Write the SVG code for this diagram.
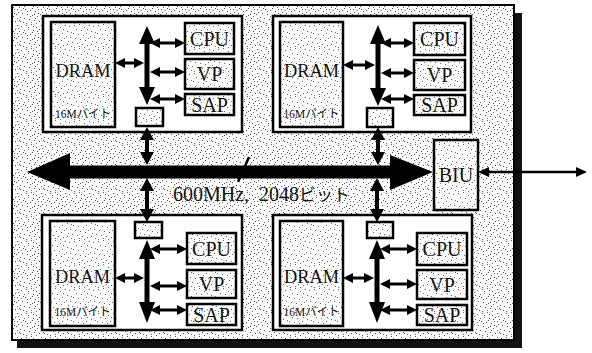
<svg xmlns="http://www.w3.org/2000/svg" width="592" height="353" viewBox="0 0 592 353">
<defs>
<pattern id="st" width="24" height="24" patternUnits="userSpaceOnUse">
<rect width="24" height="24" fill="#fff"/>
<path fill="#666" d="M2 1h1v1h-1zM7 0h1v1h-1zM12 3h1v1h-1zM17 1h1v1h-1zM21 2h1v1h-1zM4 5h1v1h-1zM9 6h1v1h-1zM15 5h1v1h-1zM19 7h1v1h-1zM23 8h1v1h-1zM1 9h1v1h-1zM6 10h1v1h-1zM11 11h1v1h-1zM14 9h1v1h-1zM18 12h1v1h-1zM22 13h1v1h-1zM3 14h1v1h-1zM8 15h1v1h-1zM13 16h1v1h-1zM16 14h1v1h-1zM20 17h1v1h-1zM0 18h1v1h-1zM5 19h1v1h-1zM10 20h1v1h-1zM15 21h1v1h-1zM19 20h1v1h-1zM23 22h1v1h-1zM2 23h1v1h-1zM7 22h1v1h-1zM12 23h1v1h-1z"/>
</pattern>
<pattern id="st2" width="24" height="24" patternUnits="userSpaceOnUse">
<rect width="24" height="24" fill="#fff"/>
<path fill="#555" d="M2 1h1v1h-1zM7 0h1v1h-1zM12 3h1v1h-1zM17 1h1v1h-1zM21 2h1v1h-1zM4 5h1v1h-1zM9 6h1v1h-1zM15 5h1v1h-1zM19 7h1v1h-1zM23 8h1v1h-1zM1 9h1v1h-1zM6 10h1v1h-1zM11 11h1v1h-1zM14 9h1v1h-1zM18 12h1v1h-1zM22 13h1v1h-1zM3 14h1v1h-1zM8 15h1v1h-1zM13 16h1v1h-1zM16 14h1v1h-1zM20 17h1v1h-1zM0 18h1v1h-1zM5 19h1v1h-1zM10 20h1v1h-1zM15 21h1v1h-1zM19 20h1v1h-1zM23 22h1v1h-1zM2 23h1v1h-1zM7 22h1v1h-1zM12 23h1v1h-1zM17 18h1v1h-1zM9 2h1v1h-1zM13 7h1v1h-1zM3 11h1v1h-1zM21 10h1v1h-1zM6 16h1v1h-1zM11 18h1v1h-1zM18 4h1v1h-1zM0 6h1v1h-1zM14 13h1v1h-1zM4 3h1v1h-1zM17 9h1v1h-1zM10 14h1v1h-1zM20 21h1v1h-1zM8 8h1v1h-1z"/>
</pattern>
<marker id="ah" viewBox="0 0 10 10" refX="6" refY="5" markerWidth="10" markerHeight="10" markerUnits="userSpaceOnUse" orient="auto-start-reverse">
<path d="M0,0 L10,5 L0,10 z" fill="#000"/>
</marker>
<style>
.frame{fill:url(#st2);stroke:#000;stroke-width:2}
.mod{fill:#fff;stroke:#000;stroke-width:2.5}
.box{fill:url(#st);stroke:#000;stroke-width:2.5}
.t{font-family:"Liberation Serif","Noto Sans CJK JP",serif;fill:#111;text-anchor:middle}
.lbl{font-size:20px}
.dram{font-size:19px}
.cap{font-size:12px}
.bus{font-family:"Liberation Serif","Noto Sans CJK JP",serif;fill:#111;font-size:20px}
.arr{stroke:#000;stroke-width:3;fill:none;marker-start:url(#ah);marker-end:url(#ah)}
.solid{fill:#000}
</style>
</defs>

<g id="frame">
<path d="M514 13H522V348H17V340H514Z" fill="#111"/>
<rect class="frame" x="12" y="5" width="502" height="335"/>
</g>

<g id="module-tl">
<rect class="mod" x="43" y="16" width="199" height="116"/>
<g id="dram-tl"><rect class="box" x="51" y="22" width="64" height="105"/><text class="t dram" x="83" y="77" textLength="55" lengthAdjust="spacingAndGlyphs">DRAM</text><text class="t cap" x="83" y="118" textLength="56" lengthAdjust="spacingAndGlyphs">16Mバイト</text></g>
<g id="cpu-tl"><rect class="box" x="185" y="23" width="49" height="31"/><text class="t lbl" x="209.5" y="45.5">CPU</text></g>
<g id="vp-tl"><rect class="box" x="185" y="59" width="49" height="30"/><text class="t lbl" x="209.5" y="81">VP</text></g>
<g id="sap-tl"><rect class="box" x="185" y="94" width="49" height="21"/><text class="t lbl" x="209.5" y="111.5">SAP</text></g>
<g id="if-tl"><rect class="box" x="136" y="108" width="27" height="18"/></g>
</g>

<g id="module-tr">
<rect class="mod" x="273" y="16" width="198" height="116"/>
<g id="dram-tr"><rect class="box" x="280" y="22" width="63" height="105"/><text class="t dram" x="311.5" y="77" textLength="55" lengthAdjust="spacingAndGlyphs">DRAM</text><text class="t cap" x="311.5" y="118" textLength="56" lengthAdjust="spacingAndGlyphs">16Mバイト</text></g>
<g id="cpu-tr"><rect class="box" x="414" y="23" width="51" height="32"/><text class="t lbl" x="439.5" y="46">CPU</text></g>
<g id="vp-tr"><rect class="box" x="414" y="60" width="51" height="30"/><text class="t lbl" x="439.5" y="82">VP</text></g>
<g id="sap-tr"><rect class="box" x="414" y="95" width="51" height="20"/><text class="t lbl" x="439.5" y="112">SAP</text></g>
<g id="if-tr"><rect class="box" x="367" y="108" width="26" height="19"/></g>
</g>

<g id="module-bl">
<rect class="mod" x="42" y="215" width="200" height="115"/>
<g id="dram-bl"><rect class="box" x="50" y="221" width="65" height="105"/><text class="t dram" x="82.5" y="283" textLength="55" lengthAdjust="spacingAndGlyphs">DRAM</text><text class="t cap" x="82.5" y="316" textLength="56" lengthAdjust="spacingAndGlyphs">16Mバイト</text></g>
<g id="cpu-bl"><rect class="box" x="187" y="233" width="49" height="31"/><text class="t lbl" x="211.5" y="255.5">CPU</text></g>
<g id="vp-bl"><rect class="box" x="187" y="270" width="49" height="28"/><text class="t lbl" x="211.5" y="291">VP</text></g>
<g id="sap-bl"><rect class="box" x="187" y="304" width="49" height="21"/><text class="t lbl" x="211.5" y="321.5">SAP</text></g>
<g id="if-bl"><rect class="box" x="135" y="222" width="27" height="16"/></g>
</g>

<g id="module-br">
<rect class="mod" x="273" y="215" width="199" height="115"/>
<g id="dram-br"><rect class="box" x="280" y="221" width="63" height="105"/><text class="t dram" x="311.5" y="283" textLength="55" lengthAdjust="spacingAndGlyphs">DRAM</text><text class="t cap" x="311.5" y="316" textLength="56" lengthAdjust="spacingAndGlyphs">16Mバイト</text></g>
<g id="cpu-br"><rect class="box" x="417" y="233" width="50" height="32"/><text class="t lbl" x="442" y="256">CPU</text></g>
<g id="vp-br"><rect class="box" x="417" y="270" width="50" height="29"/><text class="t lbl" x="442" y="291.5">VP</text></g>
<g id="sap-br"><rect class="box" x="417" y="305" width="50" height="20"/><text class="t lbl" x="442" y="322">SAP</text></g>
<g id="if-br"><rect class="box" x="367" y="222" width="26" height="16"/></g>
</g>

<g id="biu">
<rect class="box" x="434" y="140" width="44" height="70"/>
<text class="t lbl" x="456" y="182">BIU</text>
</g>

<g id="connectors">
<polygon class="solid" points="27,172 70,153 70,165.5 390,165.5 390,155 433,172 390,190 390,178.5 70,178.5 70,190"/>
<line x1="238" y1="182" x2="249" y2="157" stroke="#000" stroke-width="2.5"/>
<polygon class="solid" points="478,172 489,167 489,170.8 576,170.8 576,167 587,172 576,177 576,173.2 489,173.2 489,177"/>

<polygon class="solid" points="147,26 155,44 149.5,44 149.5,87 155,87 147,105 139,87 144.5,87 144.5,44 139,44"/>
<polygon class="solid" points="378,25 386,44 380.5,44 380.5,88 386,88 378,106 370,88 375.5,88 375.5,44 370,44"/>
<polygon class="solid" points="147,240 155,259 149.5,259 149.5,302 155,302 147,323 139,302 144.5,302 144.5,259 139,259"/>
<polygon class="solid" points="377,240 385,259 379.5,259 379.5,302 385,302 377,323 369,302 374.5,302 374.5,259 369,259"/>

<polygon class="solid" points="147,127 154,140 149,140 149,152 154,152 147,165 140,152 145,152 145,140 140,140"/>
<polygon class="solid" points="147,178 154,191 149,191 149,209 154,209 147,222 140,209 145,209 145,191 140,191"/>
<polygon class="solid" points="378,127 385,140 380,140 380,152 385,152 378,165 371,152 376,152 376,140 371,140"/>
<polygon class="solid" points="377,178 384,191 379,191 379,209 384,209 377,222 370,209 375,209 375,191 370,191"/>

<line class="arr" x1="119" y1="63" x2="140" y2="63"/>
<line class="arr" x1="154" y1="43" x2="181" y2="43"/>
<line class="arr" x1="154" y1="72" x2="181" y2="72"/>
<line class="arr" x1="154" y1="99" x2="181" y2="99"/>

<line class="arr" x1="347" y1="65" x2="371" y2="65"/>
<line class="arr" x1="385" y1="43" x2="410" y2="43"/>
<line class="arr" x1="385" y1="73" x2="410" y2="73"/>
<line class="arr" x1="385" y1="99" x2="410" y2="99"/>

<line class="arr" x1="119" y1="278" x2="140" y2="278"/>
<line class="arr" x1="154" y1="249" x2="183" y2="249"/>
<line class="arr" x1="154" y1="286" x2="183" y2="286"/>
<line class="arr" x1="154" y1="310" x2="183" y2="310"/>

<line class="arr" x1="347" y1="278" x2="370" y2="278"/>
<line class="arr" x1="384" y1="249" x2="413" y2="249"/>
<line class="arr" x1="384" y1="284" x2="413" y2="284"/>
<line class="arr" x1="384" y1="310" x2="413" y2="310"/>

<text class="bus" x="173" y="201">600MHz,<tspan x="259">2048</tspan><tspan font-size="17">ビット</tspan></text>
</g>
</svg>
